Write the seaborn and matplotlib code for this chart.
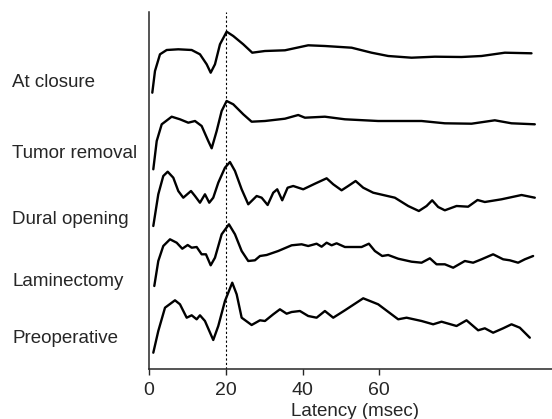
import numpy as np
import pandas as pd
import matplotlib
matplotlib.use("Agg")
import matplotlib.pyplot as plt
import matplotlib.transforms as mtransforms
import seaborn as sns

# condition names, top to bottom
conditions = ["At closure", "Tumor removal", "Dural opening", "Laminectomy", "Preoperative"]

# baseline offset of each trace (stacking), arbitrary units
offsets = [31.6, 24.8, 17.3, 11.3, 4.8]

# latency (msec) / amplitude pairs
closure_t = [0.86, 1.56, 2.86, 4.61, 7.63, 11.12, 13.28, 15.03, 16.07, 17.19, 18.49, 20.23, 21.95,
             24.56, 26.9, 30.21, 35.42, 41.48, 45.83, 52.79, 57.99, 62.32, 68.41, 74.48, 81.43,
             86.64, 92.71, 99.66]
closure_a = [-3.97, -1.8, -0.13, 0.3, 0.37, 0.3, -0.13, -1.13, -1.97, -1.13, 0.87, 2.13, 1.7,
             0.87, 0.03, 0.2, 0.27, 0.77, 0.7, 0.53, 0.03, -0.3, -0.47, -0.37, -0.4,
             -0.3, 0.03, -0.03]

tumor_t = [1.12, 2.01, 3.31, 5.91, 8.07, 10.23, 11.98, 13.72, 15.44, 16.33, 17.63, 18.93, 20.23,
           21.95, 24.56, 26.74, 30.21, 35.42, 38.88, 40.63, 45.83, 51.04, 59.71, 71.02, 77.08,
           84.04, 90.1, 94.45, 100.52]
tumor_a = [-4.83, -2.0, -0.33, 0.43, 0.17, -0.17, 0.0, -0.5, -2.0, -2.73, -1.0, 1.0, 2.0,
           1.67, 0.67, -0.07, 0.0, 0.23, 0.6, 0.33, 0.43, 0.17, 0.0, 0.0, -0.23,
           -0.27, 0.07, -0.23, -0.33]

dural_t = [1.12, 2.42, 3.72, 4.87, 6.33, 7.63, 8.93, 10.94, 11.98, 13.28, 14.58, 15.70, 16.74,
           18.05, 19.79, 21.09, 22.40, 24.14, 25.86, 28.05, 29.35, 30.91, 32.37, 33.41, 34.71,
           36.12, 37.58, 40.18, 43.23, 46.28, 48.0, 50.18, 51.9, 53.83, 55.81, 58.41, 64.06,
           67.53, 70.31, 72.32, 73.78, 75.34, 77.08, 80.13, 83.15, 85.6, 87.5, 91.85, 97.06,
           100.52]
dural_a = [-3.0, 0.17, 2.0, 2.43, 1.83, 0.5, -0.17, 0.5, 0.0, -0.67, 0.17, -0.67, -0.17,
           1.33, 2.83, 3.4, 2.5, 0.67, -0.83, 0.0, -0.17, -0.9, 0.33, 0.67, -0.43,
           0.83, 1.0, 0.67, 1.23, 1.77, 1.17, 0.57, 1.0, 1.5, 0.83, 0.33, -0.17,
           -1.0, -1.5, -1.0, -0.43, -1.1, -1.43, -1.0, -1.07, -0.4, -0.6, -0.33, 0.1,
           -0.17]

lamin_t = [1.38, 2.42, 3.72, 5.47, 7.21, 8.67, 10.08, 11.12, 12.42, 13.72, 14.84, 16.07, 17.19,
           18.93, 20.83, 22.40, 24.14, 25.86, 27.6, 28.91, 30.65, 33.67, 37.16, 39.77, 41.48,
           43.67, 44.97, 46.28, 47.58, 48.88, 51.04, 55.39, 57.29, 58.85, 60.76, 62.32, 64.92,
           68.41, 71.02, 73.18, 74.92, 77.08, 79.25, 82.29, 84.45, 86.64, 89.66, 92.27, 94.01,
           96.17, 97.92, 100.08]
lamin_a = [-3.0, -0.5, 1.0, 1.67, 1.33, 0.73, 1.1, 0.83, 0.9, 0.17, 0.17, -0.93, -0.17,
           2.17, 3.17, 2.17, 0.5, -0.5, -0.43, 0.0, 0.1, 0.5, 1.07, 1.17, 1.0,
           1.23, 0.93, 1.33, 1.07, 1.27, 0.9, 0.9, 1.23, 0.5, 0.0, 0.1, -0.27,
           -0.57, -0.67, -0.23, -0.83, -0.83, -1.17, -0.5, -0.67, -0.33, 0.17, -0.33, -0.43,
           -0.67, -0.33, 0.0]

preop_t = [1.12, 2.42, 4.17, 6.77, 8.07, 9.82, 11.12, 12.42, 13.28, 14.58, 16.74, 18.05, 19.79,
           21.69, 22.84, 24.14, 26.74, 28.91, 30.21, 32.37, 34.11, 35.86, 37.16, 39.32, 41.48,
           43.67, 45.83, 48.0, 51.04, 55.81, 59.71, 64.92, 67.11, 71.02, 74.04, 76.22, 80.13,
           82.73, 85.76, 87.5, 89.66, 92.27, 94.45, 96.61, 99.22]
preop_a = [-3.17, -1.0, 1.33, 2.07, 1.67, 0.33, 0.57, 0.17, 0.57, 0.0, -1.9, -0.5, 2.0,
           3.83, 2.67, 0.33, -0.4, 0.07, 0.0, 0.67, 1.17, 0.73, 0.9, 1.0, 0.5,
           0.33, 1.0, 0.33, 1.07, 2.27, 1.67, 0.17, 0.33, 0.0, -0.33, -0.07, -0.5,
           0.07, -0.93, -0.73, -1.17, -0.73, -0.33, -0.67, -1.67]

xticks = [0, 20, 40, 60]
marker_latency = 20


def build_frame():
    times = [closure_t, tumor_t, dural_t, lamin_t, preop_t]
    amps = [closure_a, tumor_a, dural_a, lamin_a, preop_a]
    rows = []
    for name, off, t, a in zip(conditions, offsets, times, amps):
        for ti, ai in zip(t, a):
            rows.append({"condition": name, "latency": ti, "signal": ai + off})
    return pd.DataFrame(rows)


def main():
    sns.set_style("ticks")
    plt.rcParams["font.family"] = ["Liberation Sans", "DejaVu Sans"]

    df = build_frame()

    fig = plt.figure(figsize=(5.52, 4.19), dpi=100)
    ax = fig.add_axes([149 / 552, 50 / 419, 403 / 552, 357 / 419])

    for name in conditions:
        sub = df[df["condition"] == name]
        sns.lineplot(data=sub, x="latency", y="signal", ax=ax, color="black",
                     lw=1.7, sort=False, estimator=None, legend=False)

    ax.axvline(marker_latency, color="black", lw=0.8, ls=(0, (2, 2)))

    ax.set_xlim(0, 105)
    ax.set_ylim(0, 35.7)
    ax.set_xticks(xticks)
    ax.set_xticklabels([str(v) for v in xticks], fontsize=14)
    ax.set_yticks([])
    ax.tick_params(axis="x", direction="out", length=4.5, width=1, pad=5)
    ax.set_ylabel("")
    ax.set_xlabel("Latency (msec)", fontsize=13.5, va="top")
    ax.xaxis.set_label_coords(0.511, -0.094)

    for side in ["top", "right"]:
        ax.spines[side].set_visible(False)
    ax.spines["left"].set_linewidth(1.1)
    ax.spines["bottom"].set_linewidth(1.1)

    # condition labels to the left of the axis
    trans = mtransforms.blended_transform_factory(fig.transFigure, ax.transData)
    label_y = [28.2, 21.1, 14.5, 8.3, 2.6]
    for name, y in zip(conditions, label_y):
        ax.text(12 / 552, y, name, transform=trans, fontsize=13.5, ha="left", va="baseline")

    fig.savefig("out.png", dpi=100)
    plt.close(fig)


if __name__ == "__main__":
    main()
